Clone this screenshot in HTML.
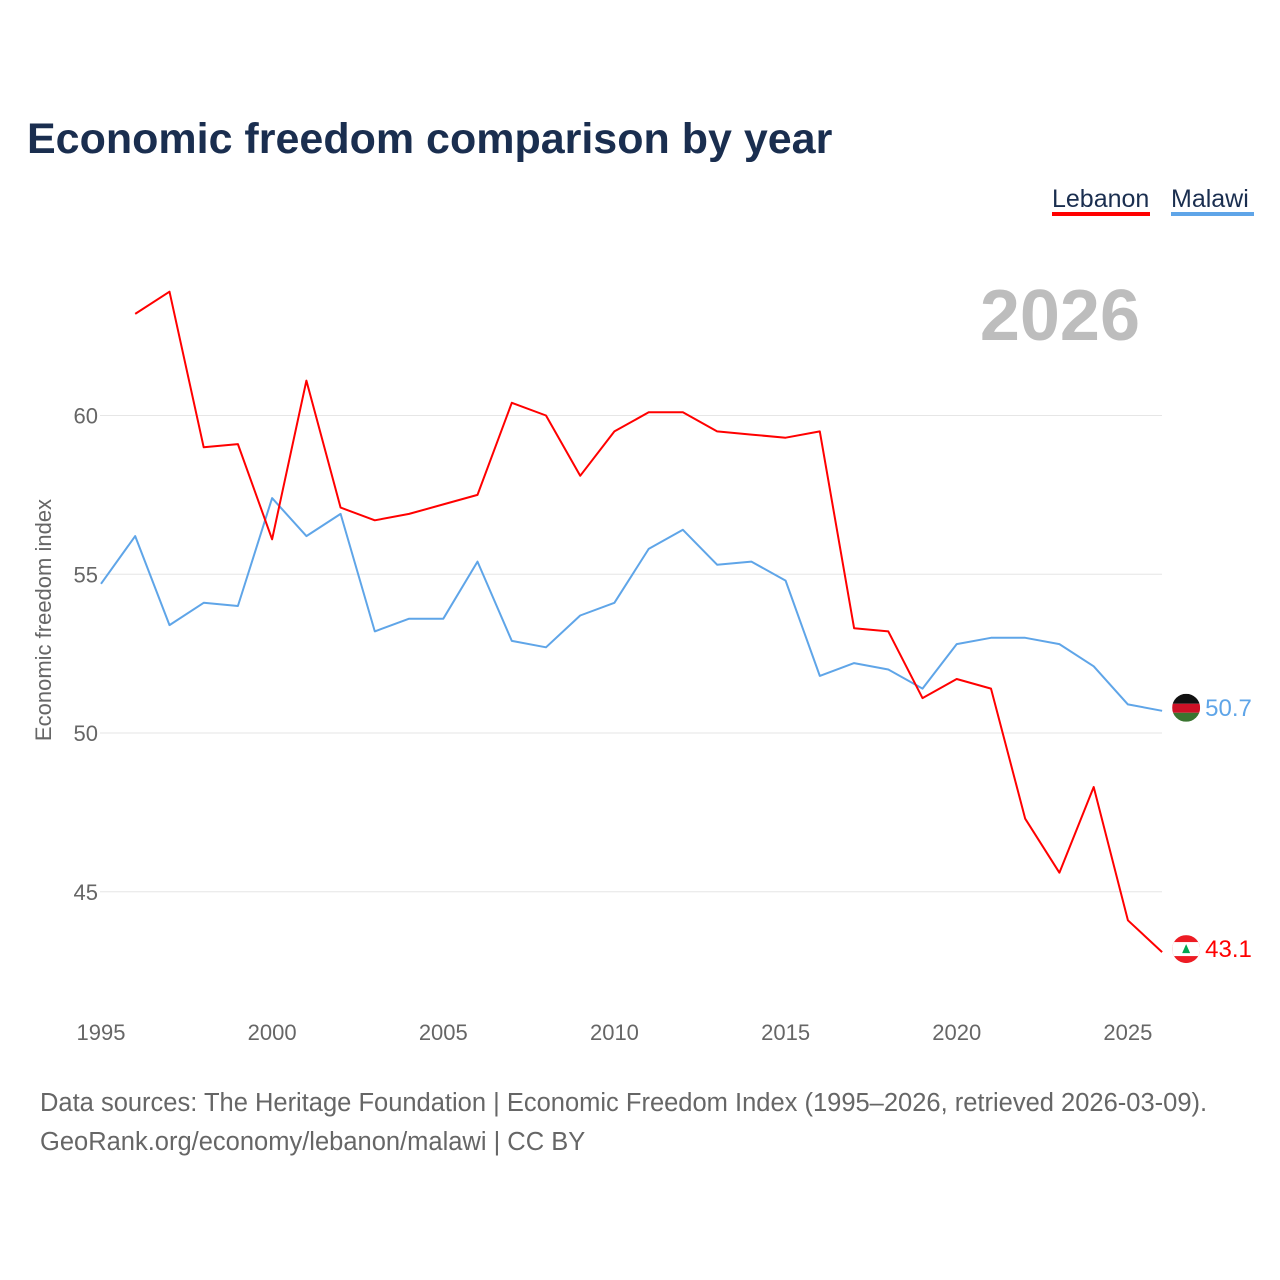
<!DOCTYPE html>
<html><head><meta charset="utf-8"><style>
body{margin:0;background:#fff;font-family:"Liberation Sans",sans-serif}
#wrap{position:relative;width:1280px;height:1280px;overflow:hidden}
</style></head><body>
<div id="wrap">
<svg id="chart" width="1280" height="1280">
<text x="27" y="153" font-size="43" font-weight="bold" fill="#1a2e4f">Economic freedom comparison by year</text>
<g>
<text x="1052" y="207" font-size="25" fill="#1a2e4f">Lebanon</text>
<rect x="1052" y="212" width="98" height="4" fill="#ff0000"/>
<text x="1171" y="207" font-size="25" fill="#1a2e4f">Malawi</text>
<rect x="1171" y="212" width="83" height="4" fill="#5fa5e8"/>
</g>
<text x="1140" y="340" font-size="72" font-weight="bold" fill="#bdbdbd" text-anchor="end">2026</text>
<g id="grid"></g><g id="xt"></g><g id="series"></g>
<text transform="translate(51,620) rotate(-90)" font-size="22" fill="#666" text-anchor="middle">Economic freedom index</text>
<text x="40" y="1111" font-size="25.5" fill="#666">Data sources: The Heritage Foundation | Economic Freedom Index (1995–2026, retrieved 2026-03-09).</text>
<text x="40" y="1150" font-size="25.5" fill="#666">GeoRank.org/economy/lebanon/malawi | CC BY</text>
</svg></div>
<script>
const years=[];for(let y=1995;y<=2026;y++)years.push(y);
const lebanon=[null,63.2,63.9,59.0,59.1,56.1,61.1,57.1,56.7,56.9,57.2,57.5,60.4,60.0,58.1,59.5,60.1,60.1,59.5,59.4,59.3,59.5,53.3,53.2,51.1,51.7,51.4,47.3,45.6,48.3,44.1,43.1];
const malawi=[54.7,56.2,53.4,54.1,54.0,57.4,56.2,56.9,53.2,53.6,53.6,55.4,52.9,52.7,53.7,54.1,55.8,56.4,55.3,55.4,54.8,51.8,52.2,52.0,51.4,52.8,53.0,53.0,52.8,52.1,50.9,50.7];
const yTicks=[45,50,55,60];
const xTicks=[1995,2000,2005,2010,2015,2020,2025];
const X=y=>101+(y-1995)*34.23;
const Y=v=>733-(v-50)*31.75;
const NS="http://www.w3.org/2000/svg";
function mk(t,a,p){const e=document.createElementNS(NS,t);for(const k in a)e.setAttribute(k,a[k]);p.appendChild(e);return e;}
const grid=document.getElementById('grid');
yTicks.forEach(v=>{
 const l=mk('line',{x1:100,x2:1162,y1:Y(v),y2:Y(v),stroke:'#e6e6e6','stroke-width':1},grid);
 
 
 const t=mk('text',{x:98,y:Y(v)+8,'font-size':22,fill:'#666','text-anchor':'end'},grid);
 t.textContent=v;
 
 
});
const xt=document.getElementById('xt');
xTicks.forEach(v=>{
 const t=mk('text',{x:X(v),y:1040,'font-size':22,fill:'#666','text-anchor':'middle'},xt);
 t.textContent=v;
 
 
});
const g=document.getElementById('series');
function line(data,color,name){
 const pts=[];data.forEach((v,i)=>{if(v!=null)pts.push(X(years[i]).toFixed(1)+','+Y(v).toFixed(1));});
 const p=mk('polyline',{points:pts.join(' '),fill:'none',stroke:color,'stroke-width':2,'stroke-linejoin':'round'},g);
 
 
 const last=data[data.length-1];
 const cx=X(years[years.length-1])+24, cy=Y(last)-3;
 const fg=mk('g',{},g);
 
 
 const cid='c'+name;
 const cp=mk('clipPath',{id:cid},fg);mk('circle',{cx:cx,cy:cy,r:14},cp);
 const gg=mk('g',{'clip-path':'url(#'+cid+')'},fg);
 if(name==='malawi'){
  mk('rect',{x:cx-14,y:cy-14,width:28,height:10,fill:'#111'},gg);
  mk('rect',{x:cx-14,y:cy-4,width:28,height:9,fill:'#ce1126'},gg);
  mk('rect',{x:cx-14,y:cy+5,width:28,height:9,fill:'#3a7530'},gg);
 }else{
  mk('rect',{x:cx-14,y:cy-14,width:28,height:28,fill:'#ed1c24'},gg);
  mk('rect',{x:cx-14,y:cy-7,width:28,height:14,fill:'#fff'},gg);
  mk('polygon',{points:`${cx},${cy-5} ${cx-4},${cy+4} ${cx+4},${cy+4}`,fill:'#00a651'},gg);
 }
 const t=mk('text',{x:cx+19,y:cy+8,'font-size':24,fill:color},g);
 t.textContent=last.toFixed(1);
 
 
}
line(malawi,'#5fa5e8','malawi');
line(lebanon,'#ff0000','lebanon');
</script>
</body></html>
